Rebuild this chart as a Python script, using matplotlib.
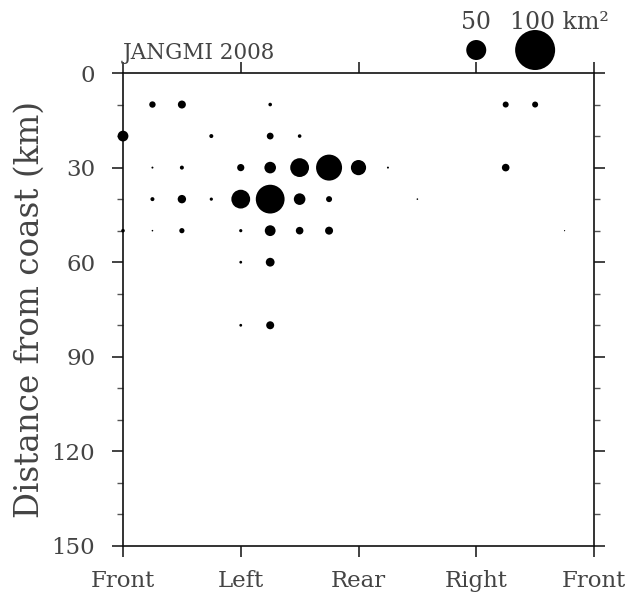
import matplotlib
matplotlib.use("Agg")
import matplotlib.pyplot as plt
import matplotlib.transforms as mtransforms
import numpy as np

# position around the storm (deg, 0 = front) / distance from coast (km) / area (km^2)
angle = [22.5, 45, 112.5, 292.5, 315,
         0, 67.5, 112.5, 135,
         22.5, 45, 90, 112.5, 135, 157.5, 180, 202.5, 292.5,
         22.5, 45, 67.5, 90, 112.5, 135, 157.5, 225,
         0, 22.5, 45, 90, 112.5, 135, 157.5, 337.5,
         90, 112.5,
         90, 112.5]
distance = [10, 10, 10, 10, 10,
            20, 20, 20, 20,
            30, 30, 30, 30, 30, 30, 30, 30, 30,
            40, 40, 40, 40, 40, 40, 40, 40,
            50, 50, 50, 50, 50, 50, 50, 50,
            60, 60,
            80, 80]
area = [16, 20, 9, 15, 15,
        27, 10, 17, 9,
        5, 10, 18, 29, 47, 65, 38, 5, 19,
        10, 21, 8, 47, 72, 29, 15, 4,
        9, 4, 13, 8, 27, 19, 20, 3,
        7, 22,
        7, 20]

legend_area = [50, 100]
legend_angle = [270, 315]

xtick_pos = [0, 90, 180, 270, 360]
xtick_lab = ["Front", "Left", "Rear", "Right", "Front"]


def msize(a):
    # dot diameter grows linearly with area (0.4 px per km^2 at 100 dpi)
    return (0.4 * 0.72 * np.asarray(a, dtype=float)) ** 2


plt.rcParams["font.family"] = "DejaVu Serif"
txt_color = "#444444"
fig = plt.figure(figsize=(6.31, 5.92), dpi=100)
ax = fig.add_axes([123 / 631, 1 - 546 / 592, 471 / 631, 473 / 592])

ax.scatter(angle, distance, s=msize(area), color="black", linewidths=0,
           clip_on=False, zorder=3)

ax.set_xlim(0, 360)
ax.set_ylim(150, 0)
ax.set_xticks(xtick_pos)
ax.set_xticklabels(xtick_lab)
ax.set_yticks(np.arange(0, 151, 30))
ax.set_yticks(np.arange(0, 151, 10), minor=True)

for sp in ax.spines.values():
    sp.set_linewidth(1.2)
    sp.set_color("#111111")
ax.tick_params(axis="both", which="major", direction="out", length=8,
               width=1.2, color="#222222", labelsize=16.5, labelcolor=txt_color)
ax.tick_params(axis="x", pad=9, top=True, labeltop=False)
ax.tick_params(axis="y", pad=12, right=True, labelright=False)
ax.tick_params(axis="y", which="minor", direction="out", length=4.5,
               width=1.0, color="#555555", right=True)
ax.set_ylabel("Distance from coast (km)", fontsize=23.5, color=txt_color,
              labelpad=4)

trans = mtransforms.blended_transform_factory(ax.transData, ax.transAxes)
ax.text(0, 1.02, "JANGMI 2008", transform=trans, ha="left", va="bottom",
        fontsize=15.5, color=txt_color)

# size legend above the frame
ax.scatter(legend_angle, [1.0486, 1.0486], s=msize(legend_area),
           color="black", linewidths=0, transform=trans, clip_on=False,
           zorder=4)
ax.text(legend_angle[0], 1.083, "50", transform=trans, ha="center",
        va="bottom", fontsize=17, color=txt_color)
ax.text(legend_angle[1] - 19, 1.083, "100 km\u00b2", transform=trans,
        ha="left", va="bottom", fontsize=17, color=txt_color)

fig.savefig("out.png", dpi=100)
